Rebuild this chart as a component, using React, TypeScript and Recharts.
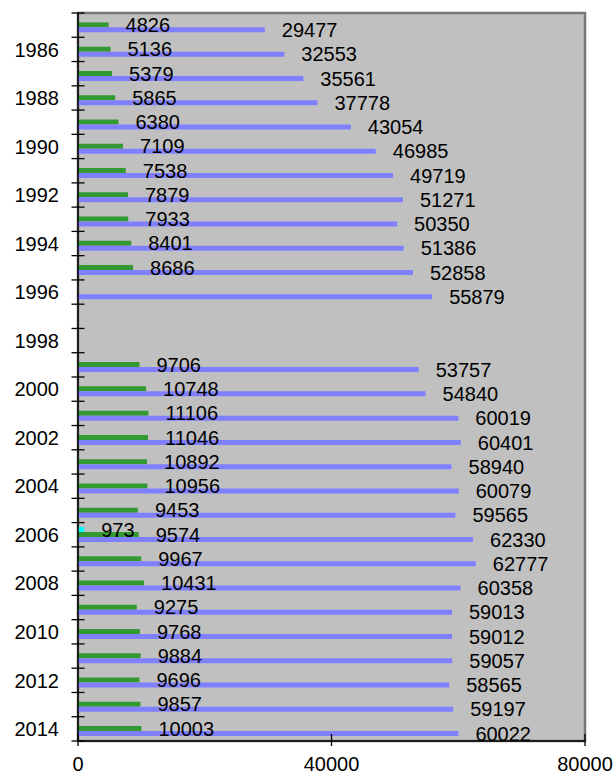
import { BarChart, Bar, XAxis, YAxis, CartesianGrid, LabelList, ReferenceArea } from 'recharts';

const years = [
  1985, 1986, 1987, 1988, 1989, 1990, 1991, 1992, 1993, 1994, 1995, 1996, 1997, 1998, 1999,
  2000, 2001, 2002, 2003, 2004, 2005, 2006, 2007, 2008, 2009, 2010, 2011, 2012, 2013, 2014,
];

const cyanValues = [
  null, null, null, null, null, null, null, null, null, null, null, null, null, null, null,
  null, null, null, null, null, null, 973, null, null, null, null, null, null, null, null,
];

const greenValues = [
  4826, 5136, 5379, 5865, 6380, 7109, 7538, 7879, 7933, 8401, 8686, null, null, null, 9706,
  10748, 11106, 11046, 10892, 10956, 9453, 9574, 9967, 10431, 9275, 9768, 9884, 9696, 9857, 10003,
];

const blueValues = [
  29477, 32553, 35561, 37778, 43054, 46985, 49719, 51271, 50350, 51386, 52858, 55879, null, null, 53757,
  54840, 60019, 60401, 58940, 60079, 59565, 62330, 62777, 60358, 59013, 59012, 59057, 58565, 59197, 60022,
];

const xTicks = [0, 40000, 80000];

const data = years.map((year, i) => ({
  year,
  cyan: cyanValues[i],
  green: greenValues[i],
  blue: blueValues[i],
}));

const FONT = '"Liberation Sans", Arial, sans-serif';

function YTick(props: any) {
  const { x, y, payload, index, visibleTicksCount } = props;
  const half = payload.offset || 728 / 30 / 2;
  const showLabel = payload.value % 2 === 0;
  return (
    <g>
      <line x1={x - 6.5} x2={x + 6.5} y1={y - half} y2={y - half} stroke="#000" strokeWidth={1.3} />
      {index === visibleTicksCount - 1 && (
        <line x1={x - 6.5} x2={x + 6.5} y1={y + half} y2={y + half} stroke="#000" strokeWidth={1.3} />
      )}
      {showLabel && (
        <text x={x - 19} y={y} dy="0.36em" textAnchor="end" fontSize={20} fontFamily={FONT} fill="#000">
          {payload.value}
        </text>
      )}
    </g>
  );
}

function XTick(props: any) {
  const { x, y, payload } = props;
  return (
    <g>
      <line x1={x} x2={x} y1={y - 7} y2={y + 5} stroke="#000" strokeWidth={1.3} />
      <text x={x} y={y + 30} textAnchor="middle" fontSize={20} fontFamily={FONT} fill="#000">
        {payload.value}
      </text>
    </g>
  );
}

const labelProps = {
  position: 'right' as const,
  offset: 17,
  fill: '#000',
  fontSize: 20,
  fontFamily: FONT,
};

export default function App() {
  return (
    <div style={{ position: 'absolute', left: 0, top: 0 }}>
      <BarChart
        width={613}
        height={776}
        data={data}
        layout="vertical"
        margin={{ top: 13, right: 28, bottom: 0, left: 0 }}
        barCategoryGap="18%"
        barGap={0}
      >
        <CartesianGrid fill="#c0c0c0" horizontal={false} vertical={false} />
        <ReferenceArea
          x1={0}
          x2={80000}
          fill="#c0c0c0"
          fillOpacity={0}
          stroke="#777777"
          strokeWidth={2.5}
          ifOverflow="visible"
        />
        <XAxis
          type="number"
          domain={[0, 80000]}
          ticks={xTicks}
          interval={0}
          height={35}
          tickSize={0}
          tickMargin={0}
          tickLine={false}
          axisLine={{ stroke: '#000', strokeWidth: 1.5 }}
          tick={<XTick />}
        />
        <YAxis
          type="category"
          dataKey="year"
          width={78}
          interval={0}
          tickSize={0}
          tickMargin={0}
          tickLine={false}
          axisLine={{ stroke: '#000', strokeWidth: 1.5 }}
          tick={<YTick />}
        />
        <Bar dataKey="cyan" fill="#00ffff" isAnimationActive={false}>
          <LabelList dataKey="cyan" {...labelProps} />
        </Bar>
        <Bar dataKey="green" fill="#339933" isAnimationActive={false}>
          <LabelList dataKey="green" {...labelProps} />
        </Bar>
        <Bar dataKey="blue" fill="#8080ff" isAnimationActive={false}>
          <LabelList dataKey="blue" {...labelProps} />
        </Bar>
      </BarChart>
    </div>
  );
}
